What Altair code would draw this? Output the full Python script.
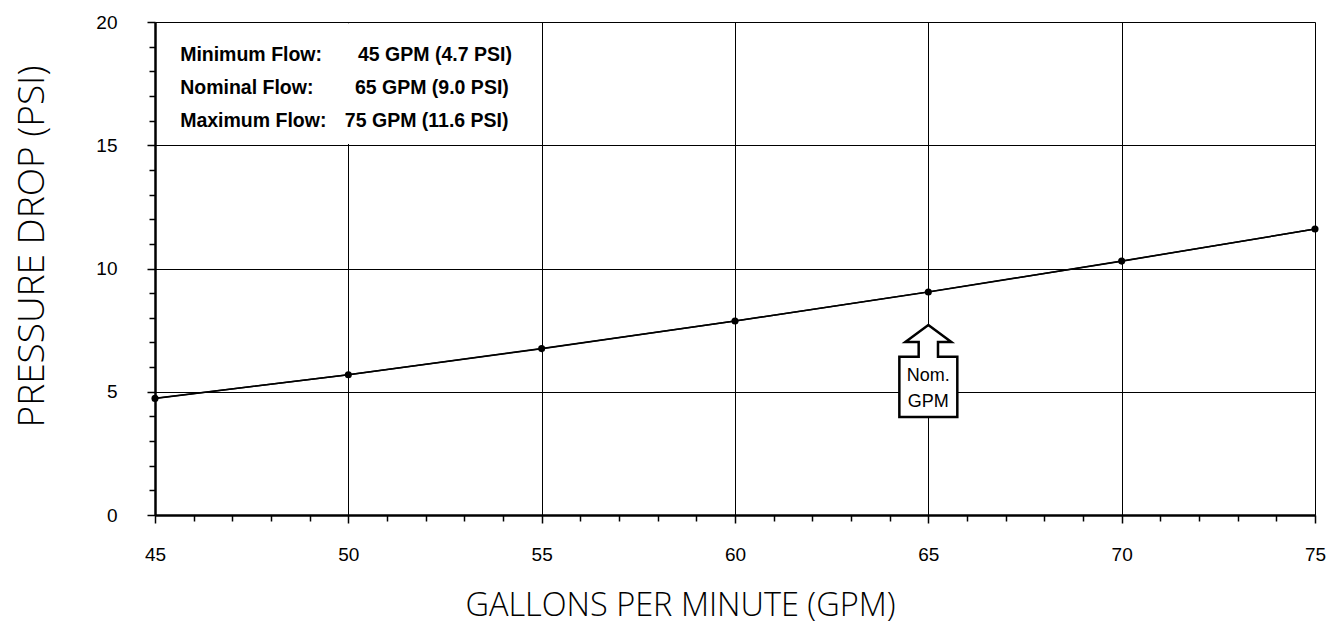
import altair as alt
import pandas as pd

# Data
gpm = [45, 50, 55, 60, 65, 70, 75]
psi = [4.73, 5.69, 6.75, 7.87, 9.05, 10.30, 11.6]

note_labels = ["Minimum Flow:", "Nominal Flow:", "Maximum Flow:"]
note_values = ["45 GPM (4.7 PSI)", "65 GPM (9.0 PSI)", "75 GPM (11.6 PSI)"]
note_y = [18.42, 17.08, 15.74]
note_val_x = [50.25, 50.17, 49.91]
note_lab_x = [45.65, 45.65, 45.65]

nom_gpm = 65
nom_text = ["Nom.", "GPM"]
nom_text_y = [5.44, 4.38]
nom_arrow_y = 5.84

x_ticks = list(range(45, 76))
y_ticks = list(range(0, 21))

df = pd.DataFrame({"gpm": gpm, "psi": psi})
notes_l = pd.DataFrame({"x": note_lab_x, "y": note_y, "t": note_labels})
notes_v = pd.DataFrame({"x": note_val_x, "y": note_y, "t": note_values})
nom_df = pd.DataFrame({"x": [nom_gpm] * 2, "y": nom_text_y, "t": nom_text})
arrow_df = pd.DataFrame({"x": [nom_gpm], "y": [nom_arrow_y]})
box_df = pd.DataFrame({"x": [45.1], "x2": [54.9], "y": [15.05], "y2": [19.95]})

is_major = "datum.value % 5 === 0"

x_scale = alt.Scale(domain=[45, 75], nice=False, zero=False)
y_scale = alt.Scale(domain=[0, 20], nice=False)

x_axis = alt.Axis(
    values=x_ticks,
    tickCount=200,
    format="d",
    title="GALLONS PER MINUTE (GPM)",
    labelExpr=f"{is_major} ? datum.label : ''",
    labelOverlap=False,
    tickSize={"condition": {"test": is_major, "value": 8}, "value": 6},
    gridOpacity={"condition": {"test": is_major, "value": 1}, "value": 0},
    grid=True, gridColor="black", gridWidth=1,
    domainColor="black", domainWidth=2.5,
    tickColor="black", tickWidth=1.5,
    labelFont="Liberation Sans", labelFontSize=19, labelColor="black",
    labelPadding=22, labelFlush=False,
    titleFont="Open Sans", titleFontWeight=300, titleFontSize=32.5, titleColor="black",
    titleX=525, titleY=90, titleAlign="center", titleBaseline="middle",
)
y_axis = alt.Axis(
    values=y_ticks,
    tickCount=200,
    format="d",
    title="PRESSURE DROP (PSI)",
    labelExpr=f"{is_major} ? datum.label : ''",
    labelOverlap=False,
    tickSize={"condition": {"test": is_major, "value": 8}, "value": 6},
    gridOpacity={"condition": {"test": is_major, "value": 1}, "value": 0},
    grid=True, gridColor="black", gridWidth=1,
    domainColor="black", domainWidth=2.5,
    tickColor="black", tickWidth=1.5,
    labelFont="Liberation Sans", labelFontSize=19, labelColor="black",
    labelPadding=30, labelFlush=False,
    titleFont="Open Sans", titleFontWeight=300, titleFontSize=37, titleColor="black",
    titleX=-123, titleY=224, titleAngle=270, titleAlign="center", titleBaseline="middle",
)

box = alt.Chart(box_df).mark_rect(fill="white", stroke=None).encode(
    x=alt.X("x:Q", scale=x_scale, axis=x_axis),
    x2="x2:Q",
    y=alt.Y("y:Q", scale=y_scale, axis=y_axis),
    y2="y2:Q",
)

curve = alt.Chart(df).mark_line(color="black", strokeWidth=1.6, interpolate="monotone").encode(
    x="gpm:Q", y="psi:Q"
)
straight = alt.Chart(df).mark_line(color="black", strokeWidth=1.4).encode(
    x="gpm:Q", y="psi:Q"
)
pts = alt.Chart(df).mark_circle(color="black", size=50, opacity=1).encode(
    x="gpm:Q", y="psi:Q"
)

arrow_path = ("M0,-1 L0.5,-0.63 L0.21,-0.63 L0.21,-0.31 L0.63,-0.31 L0.63,1 "
              "L-0.63,1 L-0.63,-0.31 L-0.21,-0.31 L-0.21,-0.63 L-0.5,-0.63 Z")
arrow = alt.Chart(arrow_df).mark_point(
    shape=arrow_path, size=8464, filled=True, fill="white", stroke="black",
    strokeWidth=2.5, opacity=1,
).encode(x="x:Q", y="y:Q")

nom_txt = alt.Chart(nom_df).mark_text(
    font="Liberation Sans", fontSize=18, color="black", align="center", baseline="alphabetic"
).encode(x="x:Q", y="y:Q", text="t:N")

lab_txt = alt.Chart(notes_l).mark_text(
    font="Liberation Sans", fontSize=19.5, fontWeight="bold", color="black",
    align="left", baseline="alphabetic"
).encode(x="x:Q", y="y:Q", text="t:N")
val_txt = alt.Chart(notes_v).mark_text(
    font="Liberation Sans", fontSize=19.5, fontWeight="bold", color="black",
    align="left", baseline="alphabetic"
).encode(x="x:Q", y="y:Q", text="t:N")

chart = alt.layer(box, straight, curve, pts, arrow, nom_txt, lab_txt, val_txt).properties(
    width=1160, height=493,
    autosize=alt.AutoSizeParams(type="none"),
    padding={"left": 147, "top": 14, "right": 12, "bottom": 110},
).configure_view(stroke="black", strokeWidth=1).configure(background="white")

chart.save("out.html", embed_options={"renderer": "svg", "actions": False})
